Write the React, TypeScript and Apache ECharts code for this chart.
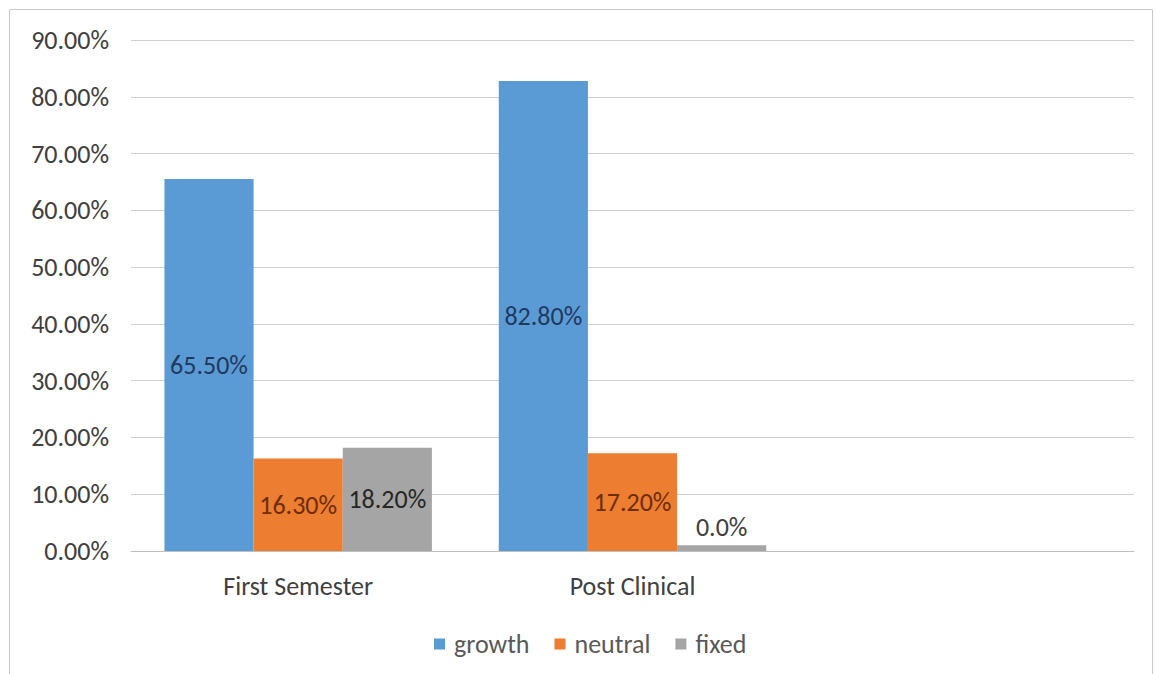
import React, { useEffect, useRef } from "react";
import * as echarts from "echarts";

const categories = ["First Semester", "Post Clinical", ""];
const growth = [65.5, 82.8, null];
const neutral = [16.3, 17.2, null];
const fixed = [18.2, 1.0, null];
const fixedLabelText = ["18.20%", "0.0%", ""];
const yTicks = { min: 0, max: 90, interval: 10 };

const FONT = "Calibri, Carlito, 'Liberation Sans', Arial, sans-serif";
const FS = 26;

export default function App() {
  const ref = useRef<HTMLDivElement>(null);
  useEffect(() => {
    if (!ref.current) return;
    const chart = echarts.init(ref.current, null, { renderer: "svg" });
    const labelBase = {
      show: true,
      position: "inside",
      fontSize: FS,
      fontFamily: FONT,
    };
    chart.setOption({
      animation: false,
      backgroundColor: "#ffffff",
      textStyle: { fontFamily: FONT },
      graphic: [
        {
          type: "rect",
          shape: { x: 9.5, y: 9.5, width: 1143, height: 680 },
          style: { fill: "none", stroke: "#c8c8c8", lineWidth: 1 },
          silent: true,
        },
      ],
      grid: { left: 131, right: 21, top: 40, bottom: 123 },
      legend: {
        data: ["growth", "neutral", "fixed"],
        left: 429,
        top: 626,
        icon: "rect",
        itemWidth: 11,
        itemHeight: 11,
        itemGap: 25,
        textStyle: {
          fontSize: FS,
          color: "#595959",
          fontFamily: FONT,
          padding: [0, 0, 0, 4],
        },
      },
      xAxis: {
        type: "category",
        data: categories,
        axisTick: { show: false },
        axisLine: { lineStyle: { color: "#bfbfbf", width: 1 } },
        axisLabel: { fontSize: FS, color: "#404040", margin: 22, fontFamily: FONT },
      },
      yAxis: {
        type: "value",
        min: yTicks.min,
        max: yTicks.max,
        interval: yTicks.interval,
        axisLine: { show: false },
        axisTick: { show: false },
        splitLine: { lineStyle: { color: "#d0d0d0", width: 1 } },
        axisLabel: {
          fontSize: FS,
          color: "#404040",
          margin: 22,
          fontFamily: FONT,
          formatter: (v: number) => v.toFixed(2) + "%",
        },
      },
      series: [
        {
          name: "growth",
          type: "bar",
          data: growth,
          barGap: "0%",
          barCategoryGap: "20%",
          itemStyle: { color: "#5B9BD5" },
          label: {
            ...labelBase,
            color: "#1F3A60",
            formatter: (p: any) => Number(p.value).toFixed(2) + "%",
          },
        },
        {
          name: "neutral",
          type: "bar",
          data: neutral,
          barGap: "0%",
          barCategoryGap: "20%",
          itemStyle: { color: "#ED7D31" },
          label: {
            ...labelBase,
            color: "#6E2E00",
            formatter: (p: any) => Number(p.value).toFixed(2) + "%",
          },
        },
        {
          name: "fixed",
          type: "bar",
          barGap: "0%",
          barCategoryGap: "20%",
          data: fixed.map((v, i) =>
            i === 1 ? { value: v, label: { position: "top", distance: 5, color: "#404040" } } : { value: v }
          ),
          itemStyle: { color: "#A5A5A5" },
          label: {
            ...labelBase,
            color: "#262626",
            formatter: (p: any) => fixedLabelText[p.dataIndex],
          },
        },
      ],
    });
    return () => chart.dispose();
  }, []);
  return (
    <div
      ref={ref}
      style={{ position: "absolute", left: 0, top: 0, width: 1155, height: 674 }}
    />
  );
}
